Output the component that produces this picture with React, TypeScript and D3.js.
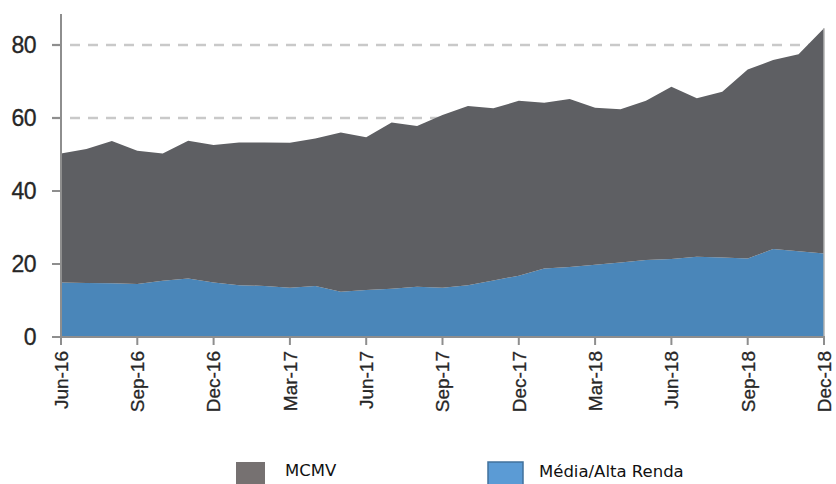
import * as d3 from 'd3';

// monthly, Jun-16 .. Dec-18
const months = [
  'Jun-16', 'Jul-16', 'Aug-16', 'Sep-16', 'Oct-16', 'Nov-16', 'Dec-16',
  'Jan-17', 'Feb-17', 'Mar-17', 'Apr-17', 'May-17', 'Jun-17', 'Jul-17',
  'Aug-17', 'Sep-17', 'Oct-17', 'Nov-17', 'Dec-17', 'Jan-18', 'Feb-18',
  'Mar-18', 'Apr-18', 'May-18', 'Jun-18', 'Jul-18', 'Aug-18', 'Sep-18',
  'Oct-18', 'Nov-18', 'Dec-18',
];

const mediaAlta = [
  14.9, 14.8, 14.7, 14.5, 15.4, 16.0, 14.9, 14.2, 14.0, 13.5, 14.0, 12.4,
  12.9, 13.2, 13.8, 13.5, 14.2, 15.5, 16.8, 18.8, 19.2, 19.8, 20.4, 21.1,
  21.4, 22.0, 21.8, 21.5, 24.1, 23.5, 22.9,
];

const mcmv = [
  35.4, 36.7, 39.0, 36.5, 34.9, 37.8, 37.7, 39.1, 39.3, 39.7, 40.4, 43.6,
  41.8, 45.6, 44.0, 47.3, 49.1, 47.2, 47.9, 45.4, 46.0, 43.0, 42.0, 43.6,
  47.2, 43.4, 45.4, 51.8, 51.8, 54.0, 61.7,
];

const yTicks = [0, 20, 40, 60, 80];
const gridTicks = [60, 80];
const xTickLabels = [
  'Jun-16', 'Sep-16', 'Dec-16', 'Mar-17', 'Jun-17', 'Sep-17', 'Dec-17',
  'Mar-18', 'Jun-18', 'Sep-18', 'Dec-18',
];

const W = 836;
const H = 484;

export default function App() {
  const x = d3.scalePoint<string>().domain(months).range([61, 824]);
  const y = d3.scaleLinear().domain([0, 88.5]).range([337, 14]);

  const rows = months.map((m, i) => ({ m, media: mediaAlta[i], mcmv: mcmv[i] }));
  const series = d3.stack<(typeof rows)[number]>().keys(['media', 'mcmv'])(rows);

  const area = d3
    .area<d3.SeriesPoint<(typeof rows)[number]>>()
    .x((d) => x(d.data.m)!)
    .y0((d) => y(d[0]))
    .y1((d) => y(d[1]));

  const fills: Record<string, string> = { media: '#4a86b9', mcmv: '#5e5f63' };
  const axisColor = '#8e8e8e';
  const labelColor = '#262626';

  return (
    <svg
      width={W}
      height={H}
      style={{ position: 'absolute', left: 0, top: 0, background: '#fff' }}
      fontFamily="'Liberation Sans', Arial, sans-serif"
    >
      {/* dashed gridlines */}
      {gridTicks.map((t) => (
        <line
          key={t}
          x1={52}
          x2={825}
          y1={y(t)}
          y2={y(t)}
          stroke="#c9c9c9"
          strokeWidth={2.5}
          strokeDasharray="10 8"
        />
      ))}

      {series.map((s) => (
        <path key={s.key} d={area(s) ?? ''} fill={fills[s.key]} />
      ))}

      {/* y axis */}
      <line x1={61} x2={61} y1={14} y2={338} stroke={axisColor} strokeWidth={2} />
      <line x1={824} x2={824} y1={y(84.6)} y2={338} stroke="#b0b0b0" strokeWidth={1.5} />
      {yTicks.map((t) => (
        <g key={t} transform={`translate(0,${y(t)})`}>
          <line x1={52} x2={61} stroke={axisColor} strokeWidth={2} />
          <text
            x={36}
            dy="0.36em"
            textAnchor="end"
            fontSize={23}
            letterSpacing={-0.6}
            fill={labelColor}
            stroke={labelColor}
            strokeWidth={0.3}
          >
            {t}
          </text>
        </g>
      ))}

      {/* x axis */}
      <line x1={60} x2={825} y1={337} y2={337} stroke={axisColor} strokeWidth={2} />
      {xTickLabels.map((m) => (
        <g key={m} transform={`translate(${x(m)},337)`}>
          <line y1={0} y2={8} stroke={axisColor} strokeWidth={2} />
          <text
            transform="translate(0,14) rotate(-90)"
            dy="0.36em"
            textAnchor="end"
            fontSize={19}
            fill={labelColor}
            stroke={labelColor}
            strokeWidth={0.3}
          >
            {m}
          </text>
        </g>
      ))}

      {/* legend */}
      <g fontFamily="'DejaVu Sans', Verdana, sans-serif" fontSize={16.5} fill="#111">
        <rect x={236} y={462} width={29} height={24} fill="#767171" />
        <text x={285} y={476}>MCMV</text>
        <rect
          x={488}
          y={462}
          width={35}
          height={24}
          fill="#5b9bd5"
          stroke="#41719c"
          strokeWidth={1.5}
        />
        <text x={539} y={477}>Média/Alta Renda</text>
      </g>
    </svg>
  );
}
